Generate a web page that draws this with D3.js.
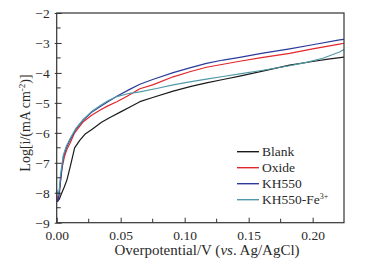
<!DOCTYPE html>
<html>
<head>
<meta charset="utf-8">
<script src="https://cdn.jsdelivr.net/npm/d3@7"></script>
<style>
  body { margin: 0; background: #fff; }
  text { font-family: "Liberation Serif", "Times New Roman", serif; fill: #2a2a2a; }
</style>
</head>
<body>
<div id="chart"></div>
<script>
// Data (overpotential in V, log current density)
const blankX = [0.000,0.002,0.004,0.006,0.008,0.011,0.014,0.018,0.022,0.028,0.035,0.042,0.050,0.058,0.065,0.075,0.091,0.105,0.117,0.130,0.143,0.160,0.182,0.200,0.212,0.2245];
const blankY = [-8.30,-8.22,-8.00,-7.80,-7.57,-7.05,-6.50,-6.25,-6.05,-5.87,-5.65,-5.48,-5.30,-5.12,-4.96,-4.82,-4.61,-4.45,-4.33,-4.22,-4.11,-3.95,-3.74,-3.62,-3.54,-3.47];

const oxideX = [0.000,0.001,0.002,0.003,0.004,0.006,0.008,0.0104,0.014,0.0208,0.027,0.034,0.040,0.047,0.055,0.065,0.075,0.091,0.104,0.117,0.130,0.143,0.160,0.182,0.200,0.221,0.2245];
const oxideY = [-8.10,-8.20,-8.00,-7.60,-7.20,-6.80,-6.55,-6.35,-6.00,-5.63,-5.42,-5.24,-5.10,-4.96,-4.78,-4.53,-4.40,-4.13,-3.96,-3.81,-3.71,-3.61,-3.49,-3.35,-3.20,-3.04,-3.01];

const kh550X = [0.000,0.001,0.002,0.003,0.0052,0.0075,0.0104,0.015,0.0208,0.027,0.0338,0.040,0.047,0.057,0.065,0.075,0.091,0.104,0.117,0.130,0.143,0.160,0.182,0.200,0.221,0.2245];
const kh550Y = [-8.20,-8.28,-8.05,-7.60,-6.80,-6.50,-6.24,-5.88,-5.57,-5.32,-5.13,-4.96,-4.78,-4.55,-4.38,-4.22,-3.99,-3.83,-3.68,-3.57,-3.48,-3.35,-3.20,-3.06,-2.90,-2.88];

const feX = [0.000,0.001,0.002,0.003,0.0052,0.0075,0.0104,0.015,0.0208,0.027,0.0338,0.040,0.047,0.057,0.065,0.078,0.091,0.104,0.117,0.130,0.143,0.160,0.182,0.195,0.208,0.221,0.2245];
const feY = [-7.90,-8.10,-7.90,-7.40,-6.75,-6.45,-6.20,-5.85,-5.55,-5.30,-5.10,-4.93,-4.79,-4.68,-4.63,-4.52,-4.40,-4.30,-4.21,-4.12,-4.03,-3.92,-3.76,-3.65,-3.51,-3.30,-3.22];

const seriesNames = ["Blank", "Oxide", "KH550", "KH550-Fe"];
const seriesColors = ["#1a1a1a", "#e3262b", "#2b3b9c", "#4f9aa6"];
const xTicks = [0, 0.05, 0.10, 0.15, 0.20];
const yTicks = [-9, -8, -7, -6, -5, -4, -3, -2];

const series = [
  {name: seriesNames[0], xs: blankX, ys: blankY, color: seriesColors[0]},
  {name: seriesNames[1], xs: oxideX, ys: oxideY, color: seriesColors[1]},
  {name: seriesNames[2], xs: kh550X, ys: kh550Y, color: seriesColors[2]},
  {name: seriesNames[3], xs: feX, ys: feY, color: seriesColors[3]}
];

const W = 367, H = 264;
const plotL = 56.7, plotR = 344, plotT = 13, plotB = 222.7;

const svg = d3.select("#chart").append("svg")
    .attr("width", W)
    .attr("height", H);

const x = d3.scaleLinear().domain([0, 0.2245]).range([plotL, plotR]);
const y = d3.scaleLinear().domain([-9, -2]).range([plotB, plotT]);

// curves
const line = d3.line()
    .x(d => x(d[0]))
    .y(d => y(d[1]));

series.forEach(s => {
  svg.append("path")
      .datum(s.xs.map((v, i) => [v, s.ys[i]]))
      .attr("fill", "none")
      .attr("stroke", s.color)
      .attr("stroke-width", 1.2)
      .attr("stroke-linejoin", "round")
      .attr("d", line);
});

// frame
svg.append("rect")
    .attr("x", plotL).attr("y", plotT)
    .attr("width", plotR - plotL).attr("height", plotB - plotT)
    .attr("fill", "none")
    .attr("stroke", "#333")
    .attr("stroke-width", 1.2);

// x axis (ticks pointing inward)
const xMinor = d3.range(0.025, 0.2245, 0.05);
const gx = svg.append("g").attr("transform", "translate(0," + plotB + ")");
gx.call(d3.axisBottom(x).tickValues(xTicks).tickSize(-5).tickFormat(d3.format(".2f")).tickPadding(8));
gx.select(".domain").remove();
gx.selectAll(".tick line").attr("stroke", "#333");
gx.selectAll(".tick text").style("font-size", "13.5px").attr("fill", "#2a2a2a");
gx.selectAll(".minor").data(xMinor).enter().append("line")
    .attr("x1", d => x(d)).attr("x2", d => x(d))
    .attr("y1", 0).attr("y2", -4)
    .attr("stroke", "#333");

// y axis
const yMinor = d3.range(-8.5, -2, 1);
const gy = svg.append("g").attr("transform", "translate(" + plotL + ",0)");
gy.call(d3.axisLeft(y).tickValues(yTicks).tickSize(-5).tickFormat(d3.format("d")).tickPadding(7));
gy.select(".domain").remove();
gy.selectAll(".tick line").attr("stroke", "#333").attr("x1", -2);
gy.selectAll(".tick text").style("font-size", "13.5px").attr("fill", "#2a2a2a");
gy.selectAll(".minor").data(yMinor).enter().append("line")
    .attr("x1", 0).attr("x2", 4)
    .attr("y1", d => y(d)).attr("y2", d => y(d))
    .attr("stroke", "#333");

// axis titles
const xt = svg.append("text")
    .attr("x", 207).attr("y", 255)
    .attr("text-anchor", "middle")
    .style("font-size", "15px");
xt.append("tspan").text("Overpotential/V (");
xt.append("tspan").style("font-style", "italic").text("vs");
xt.append("tspan").text(". Ag/AgCl)");

const yt = svg.append("text")
    .attr("transform", "translate(30," + 123 + ") rotate(-90)")
    .attr("text-anchor", "middle")
    .style("font-size", "14px");
yt.append("tspan").text("Log[i/(mA cm");
yt.append("tspan").attr("dy", -5).style("font-size", "9px").text("-2");
yt.append("tspan").attr("dy", 5).text(")]");

// legend
const leg = svg.append("g");
series.forEach((s, i) => {
  const ly = 151.7 + i * 16;
  leg.append("line")
      .attr("x1", 237).attr("x2", 259)
      .attr("y1", ly).attr("y2", ly)
      .attr("stroke", s.color)
      .attr("stroke-width", 1.4);
  const t = leg.append("text")
      .attr("x", 262).attr("y", ly + 4.5)
      .style("font-size", "13.5px")
      .text(s.name);
  if (i === 3) {
    t.append("tspan").attr("dy", -5).style("font-size", "8px").text("3+");
  }
});
</script>
</body>
</html>
